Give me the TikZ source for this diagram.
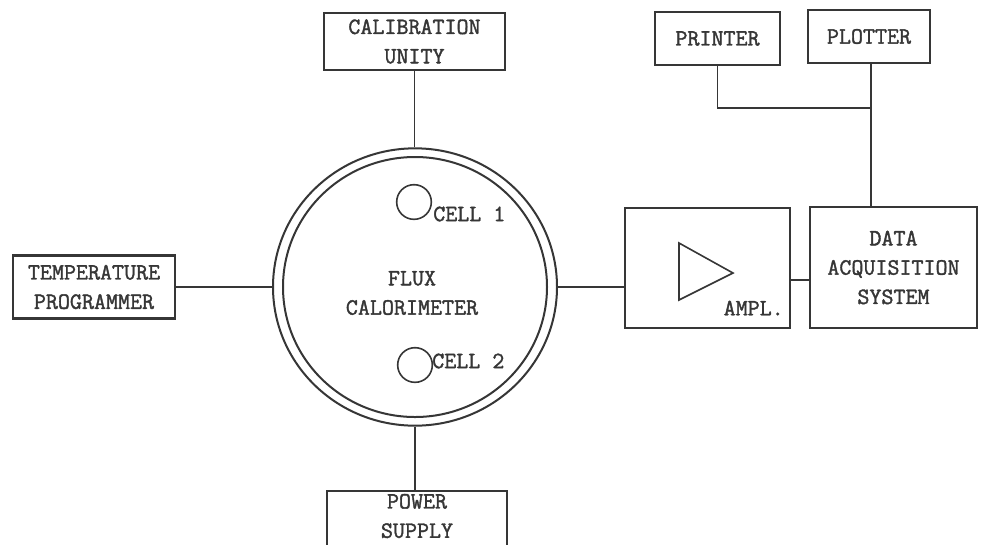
\documentclass[tikz,border=0pt]{standalone}
\usepackage{fontspec}
\newfontfamily\twfont[FakeBold=1.6]{Latin Modern Mono}
\usetikzlibrary{shapes.geometric,calc}
\definecolor{ink}{HTML}{363636}
\tikzset{
  lbl/.style={font=\twfont\fontsize{17.5}{22}\selectfont, text=ink, align=center},
  edge/.style={draw=ink, line width=1.7pt},
  blk/.style={edge, lbl, inner sep=0pt},
  conn/.style={draw=ink, line width=1.3pt},
  cellc/.style={circle, draw=ink, line width=1.2pt, minimum size=26pt, inner sep=0pt},
  ring/.style={ellipse, draw=ink, line width=1.5pt, inner sep=0pt},
}
\begin{document}
\begin{tikzpicture}[x=0.75pt,y=-0.75pt]
\useasboundingbox (0,0) rectangle (982,544);
% boxes
\node[blk, minimum width=135.75pt, minimum height=42.75pt] (cal) at (414.5,41.5) {CALIBRATION\\UNITY};
\node[blk, minimum width=121.5pt, minimum height=47.25pt] (temp) at (94,287) {TEMPERATURE\\PROGRAMMER};
\node[lbl, inner sep=0pt, minimum width=135pt, minimum height=37.5pt] (power) at (417,516) {POWER\\SUPPLY};
\draw[edge] ([yshift=-12pt]power.south west) -- (power.north west) -- (power.north east) -- ([yshift=-12pt]power.south east);
\node[blk, minimum width=123.75pt, minimum height=90pt] (amp) at (707.5,268) {};
\node[blk, minimum width=125.25pt, minimum height=90.75pt] (daq) at (893.5,267.5) {DATA\\ACQUISITION\\SYSTEM};
\node[blk, minimum width=93.75pt, minimum height=39.75pt] (printer) at (717.5,38.5) {PRINTER};
\node[blk, minimum width=91.5pt, minimum height=39.75pt] (plotter) at (869,36.5) {PLOTTER};
% calorimeter
\node[ring, minimum width=213pt, minimum height=208pt] (calo) at (415,287) {};
\node[ring, minimum width=198pt, minimum height=195pt] (caloin) at (415,287) {};
\node[lbl] (flux) at (412,293) {FLUX\\CALORIMETER};
\node[cellc] (c1) at (414,202) {};
\node[lbl, anchor=west, inner sep=0pt] (c1t) at (433,214) {CELL 1};
\node[cellc] (c2) at (415,365) {};
\node[lbl, anchor=west, inner sep=0pt] (c2t) at (432,361) {CELL 2};
% amplifier symbol
\coordinate (ta) at (679,243);
\coordinate (tb) at (679,300);
\coordinate (tc) at (733,273);
\draw[draw=ink, line width=1.2pt, line join=miter] (ta) -- (tc) -- (tb) -- cycle;
\node[lbl, anchor=east, inner sep=0pt] (ampt) at (784,308) {AMPL.};
% connectors
\coordinate (j) at (871,108);
\draw[conn] (cal.south) -- (cal.south |- calo.north);
\draw[conn] (temp.east) -- (temp.east -| calo.west);
\draw[conn] (calo.east) -- (calo.east -| amp.west);
\draw[conn] (calo.south) -- (calo.south |- power.north);
\draw[conn] ([yshift=-9pt]amp.east) -- ([yshift=-9pt]amp.east -| daq.west);
\draw[conn] (printer.south) |- (j);
\draw[conn] (plotter.south -| j) -- (j);
\draw[conn] (daq.north -| j) -- (j);
\end{tikzpicture}
\end{document}
